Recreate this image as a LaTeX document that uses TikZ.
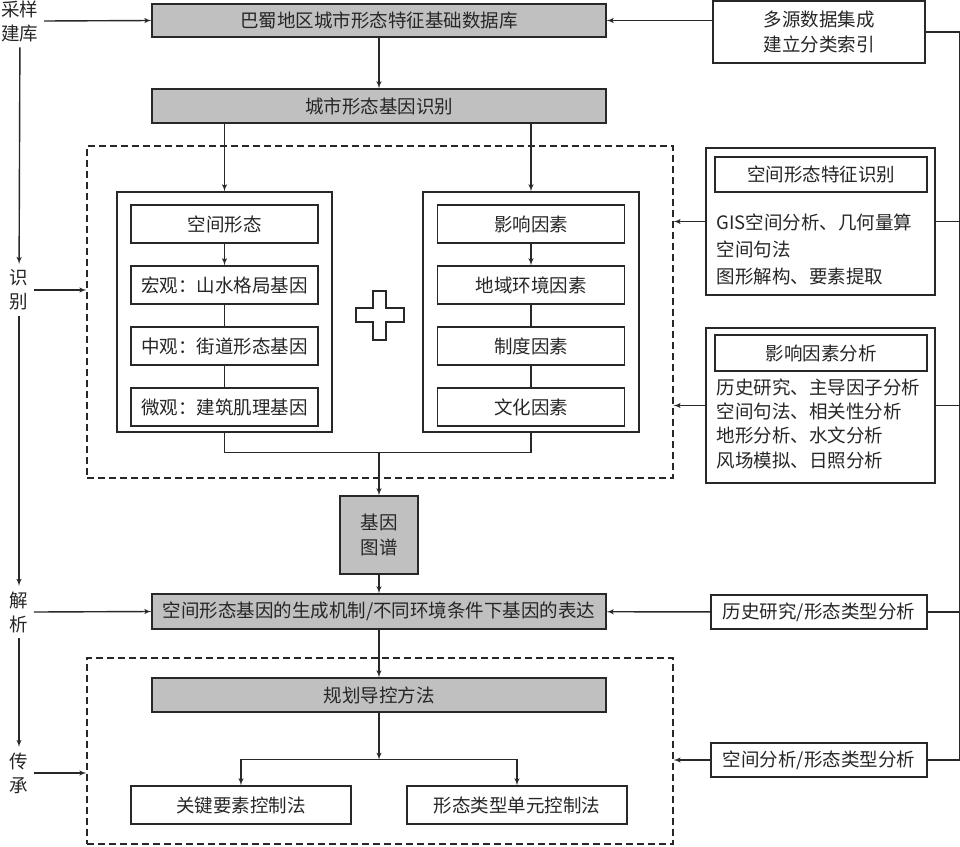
\documentclass[tikz,border=0pt]{standalone}
\usepackage{fontspec}
\setmainfont{Noto Sans CJK SC}
\usepackage{tikz}
\usetikzlibrary{arrows,positioning,calc}
\definecolor{boxgray}{RGB}{192,192,192}
\definecolor{linegray}{RGB}{40,40,40}
\tikzset{
	block/.style = {draw=linegray, fill=white, rectangle, line width=1.4pt, inner sep=0pt, minimum height=34pt},
	gblock/.style = {block, fill=boxgray, minimum width=454pt},
	sub/.style = {block, minimum width=187pt, minimum height=38pt},
	frame/.style = {draw=linegray, line width=1.2pt, dash pattern=on 7pt off 4pt, inner sep=0pt},
	stage/.style = {align=center, inner sep=5pt, font=\fontsize{18.5}{24}\selectfont},
	txt/.style = {align=left, inner sep=0pt, anchor=west}
}

\begin{document}
\begin{tikzpicture}[x=1pt, y=-1pt, auto, >=latex', line width=1.4pt, draw=linegray,
	every node/.append style={font=\fontsize{18.5}{24}\selectfont, text=black!85}]
\useasboundingbox (0,0) rectangle (960,846);

% stages on the left
\node [stage] (s1) at (20,21) {采样\\建库};
\node [stage] (s2) at (19,290) {识\\别};
\node [stage] (s3) at (19,612) {解\\析};
\node [stage] (s4) at (19,773) {传\\承};

% main column
\node [gblock, minimum height=33pt] (db) at (379,20.5) {巴蜀地区城市形态特征基础数据库};
\node [gblock] (gene) at (379,106) {城市形态基因识别};
\node [frame, minimum width=586pt, minimum height=332pt] (frame1) at (380,312) {};
\node [block, minimum width=215pt, minimum height=240pt] (lout) at (224.5,312) {};
\node [block, minimum width=216pt, minimum height=240pt] (rout) at (531,312) {};

\node [sub] (form) at (224.5,224) {空间形态};
\node [sub, below of=form, node distance=61pt] (macro) {宏观：山水格局基因};
\node [sub, below of=macro, node distance=61pt] (meso) {中观：街道形态基因};
\node [sub, below of=meso, node distance=61pt] (micro) {微观：建筑肌理基因};

\node [sub] (fact) at (531,224) {影响因素};
\node [sub, below of=fact, node distance=61pt] (region) {地域环境因素};
\node [sub, below of=region, node distance=61pt] (inst) {制度因素};
\node [sub, below of=inst, node distance=61pt] (cult) {文化因素};

\node [block, fill=boxgray, minimum width=78pt, minimum height=78pt, align=center,
	font=\fontsize{18.5}{25}\selectfont] (map) at (379,535) {基因\\图谱};
\node [gblock, minimum height=35pt] (mech) at (379,611.5) {空间形态基因的生成机制/不同环境条件下基因的表达};
\node [frame, minimum width=586pt, minimum height=186pt] (frame2) at (380,751) {};
\node [gblock] (plan) at (379,695) {规划导控方法};
\node [block, minimum width=220pt, minimum height=38pt] (key) at (241,805) {关键要素控制法};
\node [block, minimum width=220pt, minimum height=38pt] (type) at (517,805) {形态类型单元控制法};

% methods on the right
\node [block, minimum width=212pt, minimum height=62pt, align=center,
	font=\fontsize{18.5}{25}\selectfont] (src) at (819,32) {多源数据集成\\建立分类索引};
\node [block, minimum width=229pt, minimum height=147pt] (feat) at (820.5,221.5) {};
\node [block, minimum width=212pt, minimum height=35pt] (feattl) at (821,174.5) {空间形态特征识别};
\node [txt, font=\fontsize{18.5}{27}\selectfont] (feattx) at (716,249) {GIS空间分析、几何量算\\空间句法\\图形解构、要素提取};
\node [block, minimum width=229pt, minimum height=155pt] (infl) at (820.5,405.5) {};
\node [block, minimum width=212pt, minimum height=36pt] (infltl) at (821,353) {影响因素分析};
\node [txt, font=\fontsize{18.5}{24.3}\selectfont] (infltx) at (716,423.5) {历史研究、主导因子分析\\空间句法、相关性分析\\地形分析、水文分析\\风场模拟、日照分析};
\node [block, minimum width=216pt] (hist) at (819,612) {历史研究/形态类型分析};
\node [block, minimum width=216pt] (sa) at (819,760) {空间分析/形态类型分析};

% plus sign
\draw (373,291) -- (386,291) -- (386,308) -- (404,308) -- (404,322) -- (386,322) -- (386,340)
	-- (373,340) -- (373,322) -- (356,322) -- (356,308) -- (373,308) -- cycle;

% stage rail
\draw [->] (s1) -- (s2);
\draw [->] (s2) -- (s3);
\draw [->] (s3) -- (s4);
\draw [->] (s1.east) -- (db.west);
\draw [->] (s2.east) -- (s2.east -| frame1.west);
\draw [->] (s3.east) -- (mech.west);
\draw [->] (s4.east) -- (s4.east -| frame2.west);

% main flow
\draw [->] (db) -- (gene);
\draw [->] (gene.south -| lout.north) -- (lout.north);
\draw [->] (gene.south -| rout.north) -- (rout.north);
\draw [->] (form) -- (macro);
\draw (macro) -- (meso);
\draw (meso) -- (micro);
\draw [->] (fact) -- (region);
\draw (region) -- (inst);
\draw (inst) -- (cult);
\draw (lout.south) -- ++(0,20) coordinate (jl) -- (jl -| rout.south) -- (rout.south);
\draw [->] (jl -| map.north) -- (map.north);
\draw [->] (map) -- (mech);
\draw [->] (mech) -- (plan);
\draw [->] (plan.south) -- ++(0,47) coordinate (split);
\draw [->] (split) -| (key.north);
\draw [->] (split) -| (type.north);

% right rail
\draw (src.east) -- ++(34,0) coordinate (rtop) -- (rtop |- sa.east) -- (sa.east);
\draw (feat.east) -- (feat.east -| rtop);
\draw (infl.east) -- (infl.east -| rtop);
\draw (hist.east) -- (hist.east -| rtop);
\draw [->] (src.west |- db.east) -- (db.east);
\draw [->] (feat.west) -- (feat.west -| frame1.east);
\draw [->] (infl.west) -- (infl.west -| frame1.east);
\draw [->] (hist) -- (mech);
\draw [->] (sa.west) -- (sa.west -| frame2.east);
\end{tikzpicture}
\end{document}
